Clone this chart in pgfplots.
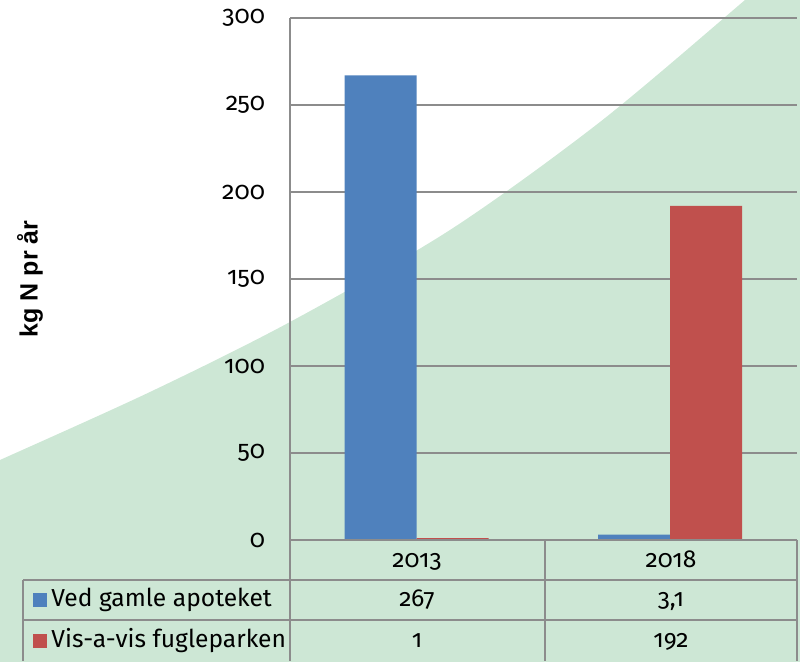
\documentclass[border=0pt]{standalone}
\usepackage{pgfplots}
\pgfplotsset{compat=1.18}
\usepackage{fontspec}
\setmainfont{Fira Sans}[Numbers=OldStyle]
\newfontfamily\arialfont{Liberation Sans}
\definecolor{bggreen}{RGB}{205,231,213}
\definecolor{barblue}{RGB}{79,129,189}
\definecolor{barred}{RGB}{192,80,77}
\definecolor{gridgray}{RGB}{140,140,140}

\begin{document}
\begin{tikzpicture}
	% 1 unit of the scopes = 1 pixel of the reference (0.5pt)
	\begin{scope}[x=0.5pt,y=0.5pt]
		\useasboundingbox (0,0) rectangle (800,661);
		% green background shape
		\fill[bggreen] plot[smooth] coordinates {(-10,197) (0,201) (150,269) (290,339) (450,431) (600,539) (745,661) (760,675)}
			-- (810,675) -- (810,-10) -- (-10,-10) -- cycle;
	\end{scope}
	\begin{axis}[
		at={(145pt,60.5pt)}, anchor=south west,
		scale only axis, width=253.5pt, height=261pt,
		ybar, bar width=36pt, ybar=0pt,
		xmin=-0.5, xmax=1.5, xtick=\empty,
		ymin=0, ymax=300, ytick={0,50,...,300},
		ymajorgrids, grid style={gridgray, line width=1pt},
		axis y line*=left, axis x line*=bottom,
		axis line style={gridgray, line width=1pt, -},
		major tick length=0pt,
		yticklabel style={font=\fontsize{12.5}{14}\selectfont, xshift=-9pt},
		/pgf/number format/assume math mode=true,
		]
		\addplot[fill=barblue, draw=none] coordinates {(0,267) (1,3.1)};
		\addplot[fill=barred, draw=none] coordinates {(0,1) (1,192)};
	\end{axis}
	\begin{scope}[x=0.5pt,y=0.5pt]
		% data table
		\begin{scope}[gridgray, line width=1pt]
			\draw (290,121) -- (797,121);
			\draw (23,81) -- (797,81);
			\draw (23,41) -- (797,41);
			\draw (290,121) -- (290,0);
			\draw (545,121) -- (545,0);
			\draw (797,121) -- (797,0);
			\draw (23,81) -- (23,0);
		\end{scope}
		\fill[barblue] (33,68) rectangle (47,54);
		\fill[barred] (33,27) rectangle (47,13);
		\begin{scope}[every node/.style={font=\fontsize{12.3}{14}\selectfont, inner sep=0pt}]
			\node[anchor=base] at (417,93) {2013};
			\node[anchor=base] at (671,93) {2018};
			\node[anchor=base west] at (51,54) {Ved gamle apoteket};
			\node[anchor=base west] at (51,13) {Vis-a-vis fugleparken};
			\node[anchor=base] at (417,54) {267};
			\node[anchor=base] at (671,54) {3,1};
			\node[anchor=base] at (417,13) {1};
			\node[anchor=base] at (671,13) {192};
		\end{scope}
		\node[rotate=90, font=\arialfont\bfseries\fontsize{12.5}{14}\selectfont] at (30,382) {kg N pr år};
	\end{scope}
\end{tikzpicture}
\end{document}
